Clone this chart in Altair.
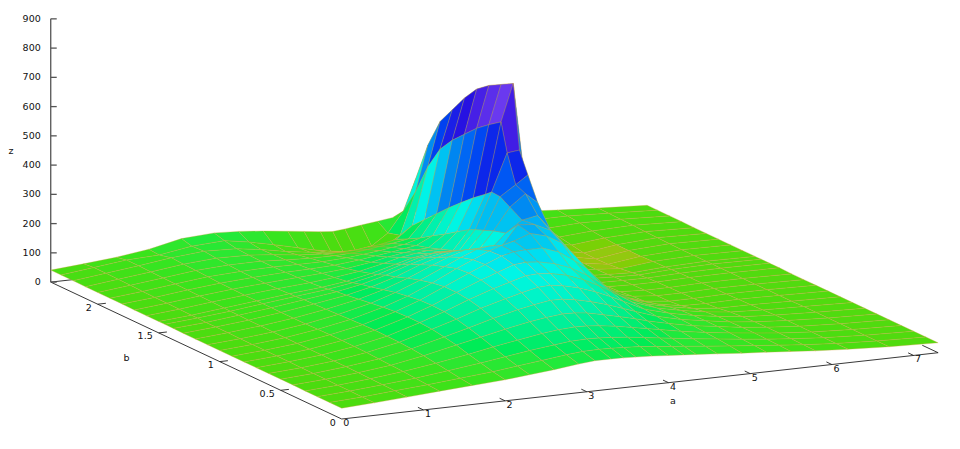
import altair as alt

a_vals = [0, .4, .8, 1.2, 1.6, 2, 2.3, 2.6, 2.9, 3.1, 3.3, 3.45, 3.6, 3.8, 4, 4.19, 4.34, 4.6, 4.9, 5.2, 5.5, 5.8, 6.2, 6.7, 7.3]
b_vals = [0, .1, .2, .3, .4, .5, .6, .7, .8, .9, 1.0, 1.1, 1.2, 1.3, 1.38, 1.45, 1.5, 1.6, 1.7, 1.8, 1.9, 2.0, 2.1, 2.2, 2.3, 2.385]
z_rows = [
    [37, 43, 50, 58, 65, 72, 80, 88, 98, 103, 103, 102, 100, 97, 93, 89, 86, 80, 73, 67, 60, 53, 46, 39, 34],
    [37, 43, 52, 60, 70, 80, 90, 100, 110, 115, 116, 115, 113, 110, 104, 98, 94, 86, 78, 70, 62, 54, 46, 39, 34],
    [37, 44, 53, 63, 76, 90, 102, 114, 124, 130, 132, 131, 128, 122, 115, 108, 102, 92, 82, 72, 63, 55, 46, 39, 34],
    [37, 44, 54, 66, 82, 100, 116, 130, 143, 150, 153, 152, 148, 140, 130, 120, 112, 98, 85, 74, 64, 55, 46, 39, 34],
    [38, 45, 55, 68, 88, 112, 130, 148, 164, 172, 178, 177, 172, 160, 147, 134, 122, 105, 88, 76, 64, 55, 46, 39, 34],
    [38, 45, 56, 70, 92, 120, 142, 165, 185, 196, 205, 204, 198, 185, 168, 150, 135, 110, 90, 76, 63, 54, 46, 39, 34],
    [38, 45, 56, 72, 95, 127, 152, 180, 203, 218, 230, 232, 226, 212, 193, 170, 150, 115, 92, 75, 62, 52, 45, 39, 34],
    [38, 46, 57, 73, 96, 130, 158, 190, 218, 234, 250, 252, 248, 236, 215, 188, 165, 120, 90, 72, 58, 48, 43, 39, 34],
    [38, 46, 57, 74, 97, 130, 160, 195, 228, 248, 268, 272, 268, 256, 235, 205, 178, 122, 85, 65, 50, 42, 41, 38, 34],
    [38, 46, 57, 74, 96, 128, 158, 195, 232, 255, 278, 288, 290, 290, 270, 235, 205, 128, 80, 55, 40, 38, 40, 38, 34],
    [38, 46, 57, 73, 94, 124, 152, 188, 228, 252, 276, 290, 300, 320, 305, 275, 230, 130, 72, 45, 36, 36, 39, 38, 34],
    [38, 46, 57, 72, 92, 118, 145, 178, 215, 240, 262, 268, 262, 330, 325, 300, 255, 128, 65, 42, 35, 35, 38, 37, 34],
    [38, 47, 58, 72, 90, 112, 135, 165, 200, 222, 240, 240, 228, 282, 320, 330, 280, 120, 58, 38, 34, 34, 37, 37, 34],
    [38, 47, 58, 72, 88, 106, 125, 150, 182, 200, 215, 212, 205, 270, 345, 385, 350, 112, 52, 36, 33, 33, 36, 37, 35],
    [39, 47, 59, 72, 87, 102, 118, 140, 168, 184, 195, 195, 192, 256, 365, 400, 429, 106, 49, 34, 32, 31, 35, 37, 35],
    [39, 48, 59, 72, 85, 97, 110, 128, 154, 170, 180, 180, 178, 245, 367, 495, 500, 100, 45, 34, 30, 28, 34, 37, 35],
    [39, 48, 60, 72, 84, 94, 105, 122, 145, 160, 168, 170, 170, 235, 350, 591, 718, 95, 42, 34, 29, 26, 33, 37, 35],
    [39, 49, 61, 72, 82, 90, 98, 110, 128, 142, 150, 155, 155, 208, 318, 562, 695, 88, 38, 34, 27, 20, 32, 37, 35],
    [39, 50, 62, 73, 81, 88, 93, 100, 112, 124, 132, 138, 140, 180, 282, 530, 672, 82, 36, 36, 28, 15, 30, 37, 35],
    [40, 50, 63, 74, 81, 86, 88, 92, 100, 108, 115, 122, 128, 155, 245, 490, 640, 78, 36, 38, 30, 14, 30, 38, 35],
    [40, 51, 64, 76, 82, 85, 84, 84, 88, 94, 100, 106, 112, 128, 205, 450, 590, 78, 38, 40, 32, 15, 30, 39, 35],
    [40, 52, 65, 78, 84, 85, 80, 76, 76, 78, 84, 90, 96, 105, 165, 400, 530, 80, 42, 44, 34, 22, 34, 40, 35],
    [40, 53, 66, 80, 88, 86, 78, 68, 62, 60, 62, 68, 72, 84, 125, 320, 470, 84, 48, 48, 38, 30, 38, 42, 36],
    [41, 54, 67, 82, 92, 88, 76, 60, 48, 42, 32, 26, 24, 38, 72, 215, 370, 88, 55, 50, 42, 40, 46, 43, 36],
    [41, 54, 67, 72, 90, 96, 82, 64, 44, 30, 20, 14, 14, 22, 60, 130, 235, 92, 66, 54, 50, 50, 50, 44, 36],
    [41, 50, 60, 75, 99, 106, 102, 94, 84, 77, 70, 66, 70, 77, 84, 91, 105, 95, 82, 74, 68, 62, 54, 45, 36],
]
a_ticks = [0, 1, 2, 3, 4, 5, 6, 7]
b_ticks = [0, 0.5, 1, 1.5, 2]
z_ticks = [0, 100, 200, 300, 400, 500, 600, 700, 800, 900]
a_max, b_max = 7.3, 2.385
palette_z = [15, 22, 28, 40, 70, 100, 170, 250, 300, 350, 450, 550, 650, 720]
palette_c = ["#d8a014", "#94c810", "#58d80f", "#4cdc0f", "#38e41c", "#20ea3c", "#00f0a0", "#00f5e6", "#00c8f0",
             "#0082f0", "#0a28eb", "#280fe1", "#6e3cf0", "#8c50e6"]


def project(a, b, z=0):
    return [341.7 + 81.7 * a - 122.0 * b, 419 - 9.08 * a - 57.4 * b - 0.2925 * z]


def line(p, q):
    return {"type": "Feature", "properties": {}, "geometry": {"type": "LineString", "coordinates": [p, q]}}


quads = []
for j in range(len(b_vals) - 2, -1, -1):
    for i in range(len(a_vals) - 2, -1, -1):
        zs = [z_rows[j][i], z_rows[j][i + 1], z_rows[j + 1][i + 1], z_rows[j + 1][i]]
        ring = [project(a_vals[i], b_vals[j], zs[0]), project(a_vals[i + 1], b_vals[j], zs[1]),
                project(a_vals[i + 1], b_vals[j + 1], zs[2]), project(a_vals[i], b_vals[j + 1], zs[3])]
        ring.append(ring[0])
        quads.append({"type": "Feature", "properties": {"z": sum(zs) / 4},
                      "geometry": {"type": "Polygon", "coordinates": [ring]}})

thin, thick = [], []
thin.append(line(project(0, 0), project(a_max, 0)))
thin.append(line(project(0, 0), project(0, b_max)))
thin.append(line(project(a_max, 0), project(a_max, 0.13)))
thin.append(line(project(0, b_max), project(0.27, b_max)))
for t in a_ticks[1:]:
    thin.append(line(project(t, 0), project(t, 0.045)))
for t in b_ticks[1:]:
    thin.append(line(project(0, t), project(0.1, t)))
thick.append(line(project(0, b_max), project(0, b_max, 900)))
for t in z_ticks:
    p = project(0, b_max, t)
    thick.append(line(p, [p[0] + 6, p[1]]))

labels = []
for t in a_ticks:
    p = project(t, 0)
    labels.append({"x": p[0] + 4.5, "y": p[1] + 4, "t": str(t), "al": "center"})
for t in b_ticks:
    p = project(0, t)
    labels.append({"x": p[0] - 6, "y": p[1] + 3.5, "t": f"{t:g}", "al": "right"})
for t in z_ticks:
    p = project(0, b_max, t)
    labels.append({"x": p[0] - 10, "y": p[1], "t": str(t), "al": "right"})
labels += [{"x": 11, "y": 151, "t": "z", "al": "center"},
           {"x": 126.5, "y": 358, "t": "b", "al": "center"},
           {"x": 673, "y": 401, "t": "a", "al": "center"}]

proj = dict(type="identity", scale=1, translate=[-8, -8])

axes_thin = alt.Chart(alt.Data(values=thin)).mark_geoshape(filled=False, stroke="#222222", strokeWidth=0.9).project(**proj)
axes_thick = alt.Chart(alt.Data(values=thick)).mark_geoshape(filled=False, stroke="#555555", strokeWidth=1.3).project(**proj)
surface = alt.Chart(alt.Data(values=quads)).mark_geoshape(strokeWidth=0.6, stroke="#d8a040", strokeOpacity=0.55).encode(
    color=alt.Color("properties.z:Q", scale=alt.Scale(domain=palette_z, range=palette_c), legend=None)
).project(**proj)


def text_layer(al):
    rows = [r for r in labels if r["al"] == al]
    return alt.Chart(alt.Data(values=rows)).mark_text(
        align=al, baseline="middle", font="DejaVu Sans", fontSize=9.5, color="#111111"
    ).encode(longitude="x:Q", latitude="y:Q", text="t:N").project(**proj)


chart = alt.layer(axes_thin, axes_thick, surface, text_layer("center"), text_layer("right")).properties(
    width=944, height=433, padding=0
).configure_view(stroke=None)

chart.save("out.html", embed_options={"renderer": "svg", "actions": False})
